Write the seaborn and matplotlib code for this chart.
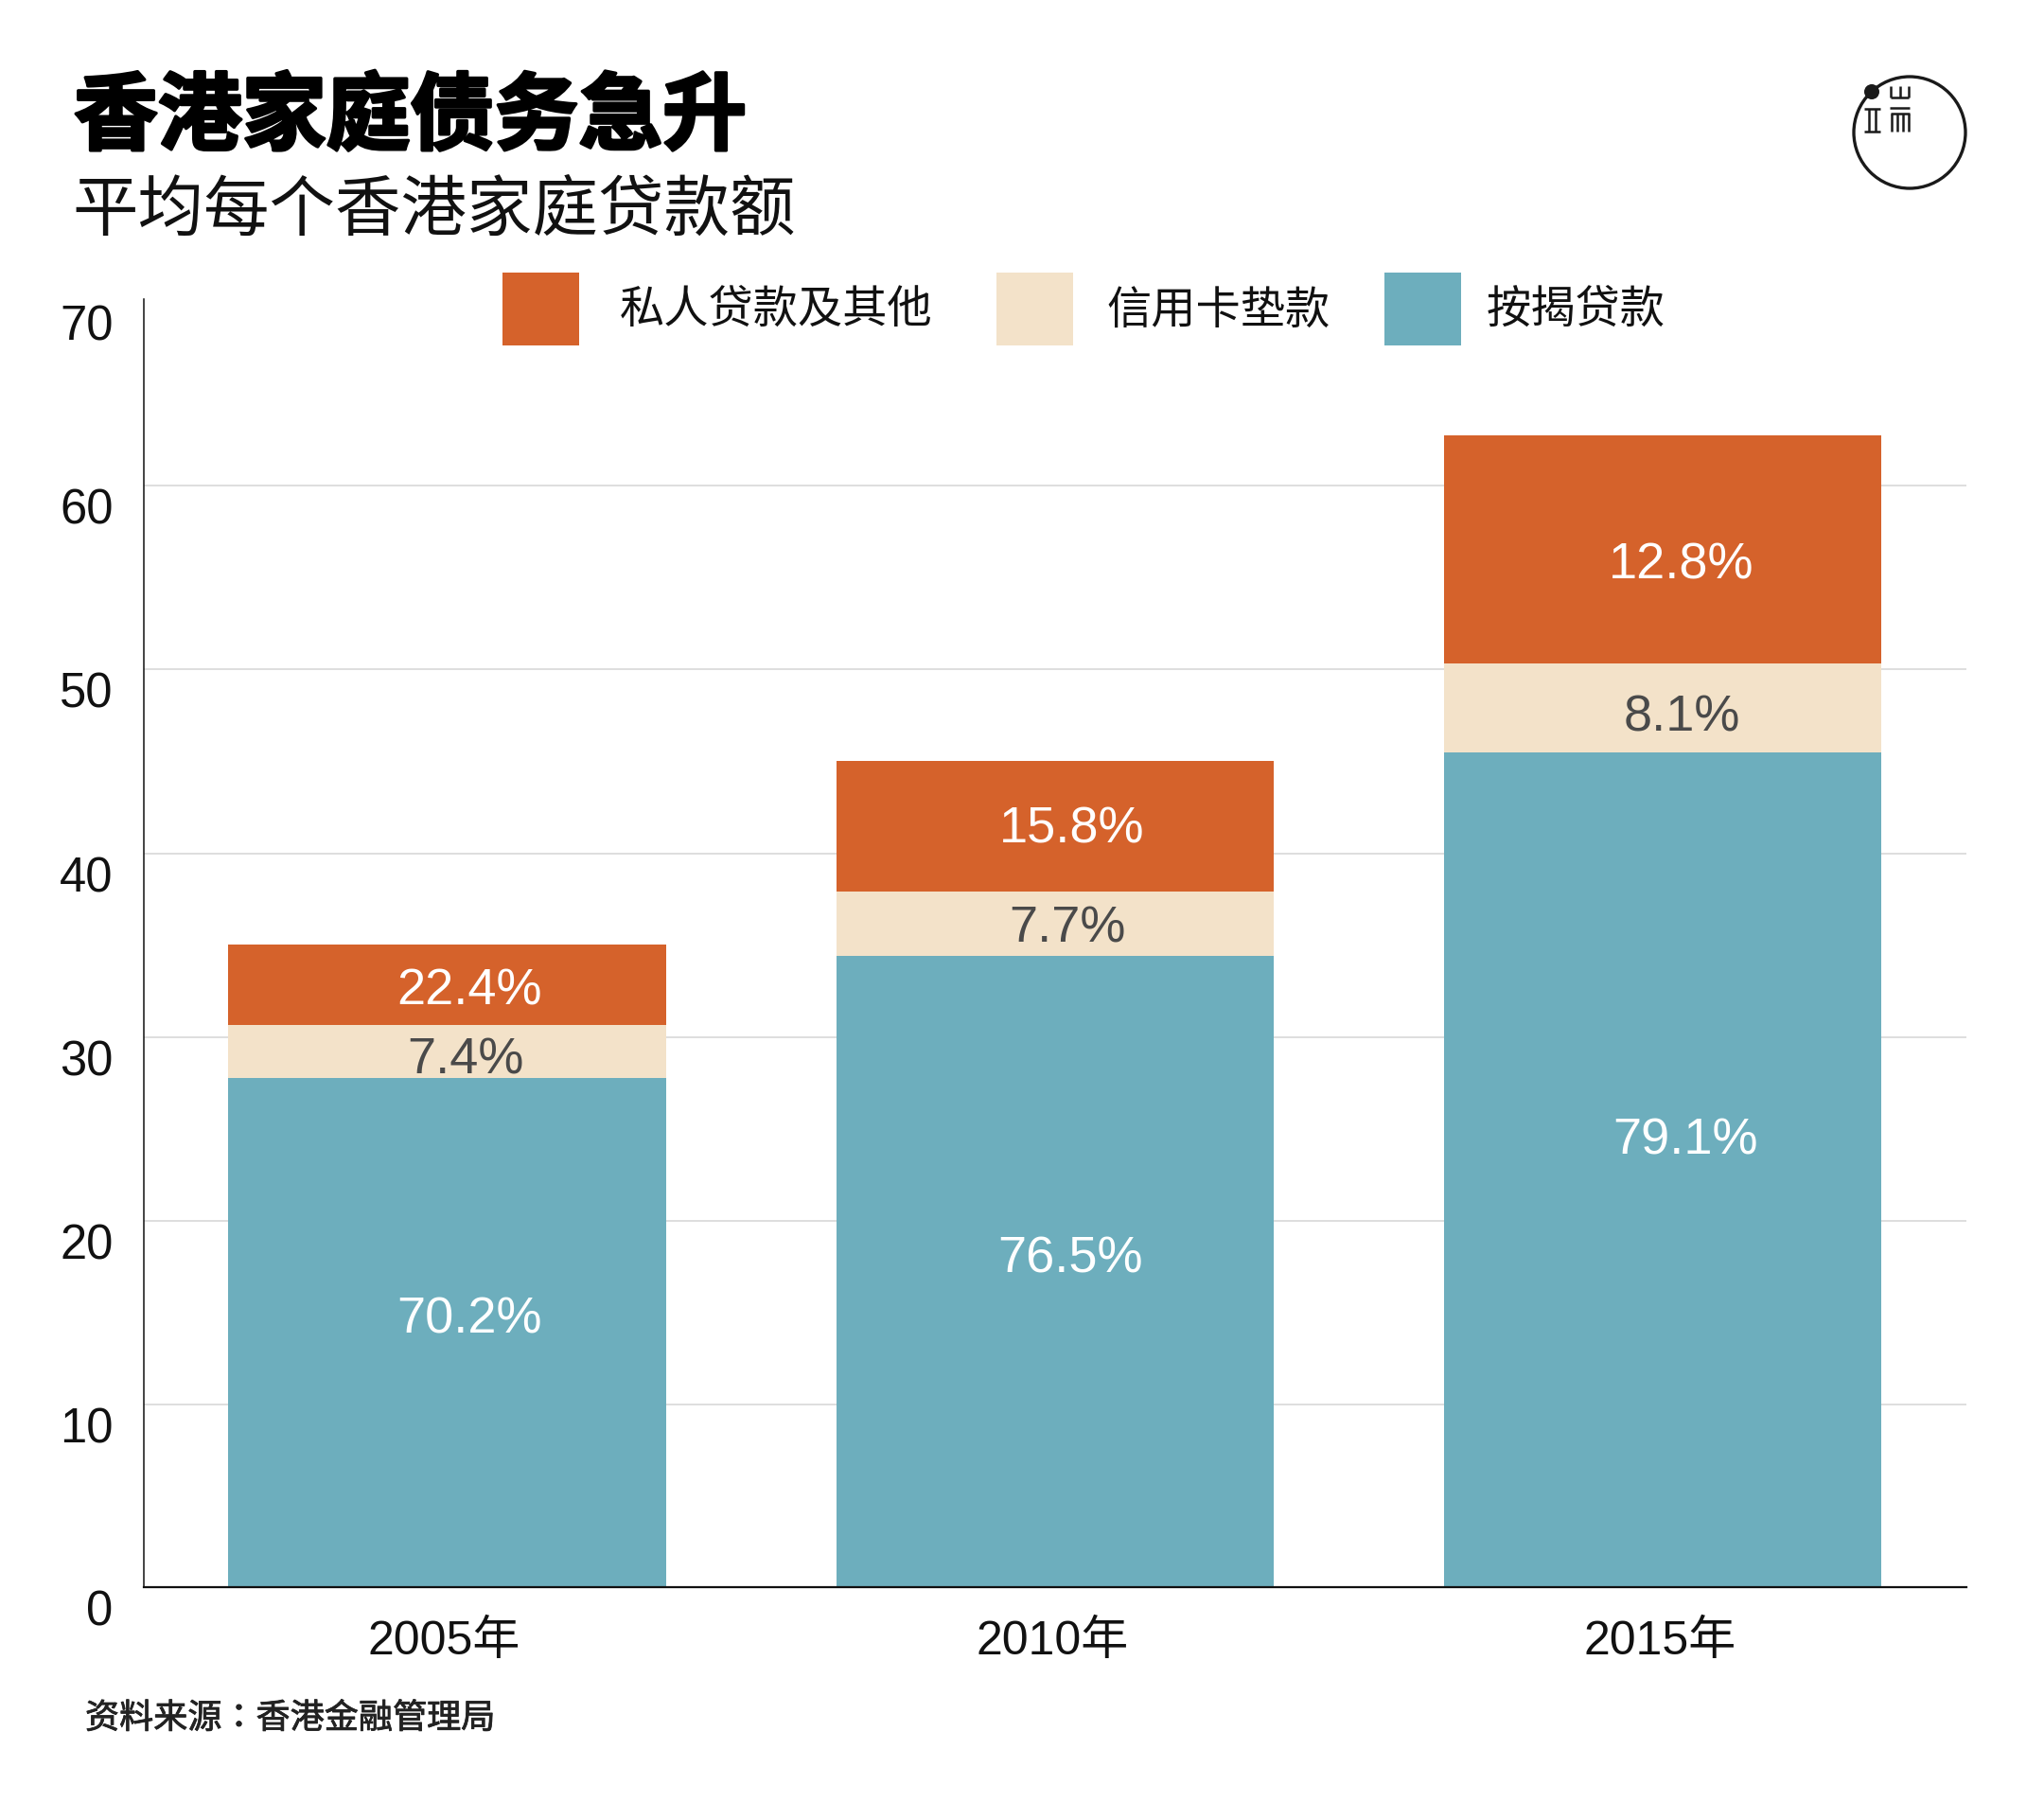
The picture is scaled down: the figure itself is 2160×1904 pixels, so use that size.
import matplotlib
matplotlib.use("Agg")
import matplotlib.pyplot as plt
import matplotlib.patheffects as pe
from matplotlib.patches import Circle
from matplotlib.lines import Line2D
from matplotlib.transforms import ScaledTranslation
import numpy as np
import pandas as pd
import seaborn as sns

# ---- data ----
years = ["2005年", "2010年", "2015年"]
mortgage = [27.8, 34.4, 45.5]
credit_card = [2.85, 3.5, 4.8]
personal = [4.4, 7.1, 12.45]
mortgage_pct = ["70.2%", "76.5%", "79.1%"]
credit_pct = ["7.4%", "7.7%", "8.1%"]
personal_pct = ["22.4%", "15.8%", "12.8%"]
series_names = ["私人贷款及其他", "信用卡垫款", "按揭贷款"]
yticks = [0, 10, 20, 30, 40, 50, 60, 70]

# label heights on the value axis as they stand in the picture
mortgage_label_y = [14.6, 17.9, 24.35]
credit_label_y = [28.75, 35.9, 47.35]
personal_label_y = [32.5, 41.3, 55.65]
# label shift from the bar centre, in category units
mortgage_label_dx = [0.036, 0.026, 0.038]
credit_label_dx = [0.030, 0.020, 0.031]
personal_label_dx = [0.036, 0.028, 0.030]

ORANGE, BEIGE, TEAL = "#D5622B", "#F3E2C9", "#6DAEBD"
W, H = 2160, 1904
CJK = ["Noto Sans CJK SC", "DejaVu Sans"]
CJK_TC = ["Noto Sans CJK TC", "DejaVu Sans"]
LATIN = ["Liberation Sans", "Noto Sans CJK SC", "DejaVu Sans"]

sns.set_theme(style="white")
plt.rcParams["font.family"] = LATIN
plt.rcParams["axes.unicode_minus"] = False

fig = plt.figure(figsize=(W / 100, H / 100), dpi=100, facecolor="white")
AX_L, AX_R, AX_T, AX_B = 151.5, 2078, 316, 1677
ax = fig.add_axes([AX_L / W, 1 - AX_B / H, (AX_R - AX_L) / W, (AX_B - AX_T) / H])

df = pd.DataFrame({"year": years, "m": mortgage, "c": credit_card, "p": personal})
df["m_top"] = df["m"]
df["c_top"] = df["m"] + df["c"]
df["p_top"] = df["c_top"] + df["p"]

for col, colr, name in [("p_top", ORANGE, series_names[0]),
                        ("c_top", BEIGE, series_names[1]),
                        ("m_top", TEAL, series_names[2])]:
    sns.barplot(data=df, x="year", y=col, color=colr, saturation=1, width=0.72,
                label=name, ax=ax, zorder=3, linewidth=0, legend=False)

# the picture's baseline sits a hair above its zero gridline position
YMIN, YMAX = 0.08, 70.14
ax.set_xlim(-0.5, 2.5)
ax.set_ylim(YMIN, YMAX)
ax.set_xlabel("")
ax.set_ylabel("")
ax.set_yticks([max(v, YMIN) for v in yticks])
ax.set_yticklabels([str(v) for v in yticks])
ax.set_axisbelow(True)
ax.grid(axis="y", color="#d4d4d4", linewidth=1.1)
ax.grid(axis="x", visible=False)
ax.yaxis.get_major_ticks()[-1].gridline.set_visible(False)
for s in ("top", "right"):
    ax.spines[s].set_visible(False)
ax.spines["left"].set_color("#111111")
ax.spines["left"].set_linewidth(1.1)
ax.spines["bottom"].set_color("#111111")
ax.spines["bottom"].set_linewidth(1.6)
ax.spines["bottom"].set_zorder(5)
ax.tick_params(axis="y", length=0, pad=23, labelsize=36.5, labelcolor="#111111")
ax.tick_params(axis="x", length=0, pad=25, labelsize=36, labelcolor="#111111")
for i, lab in enumerate(ax.get_yticklabels()):
    off = 21.6 if i == 0 else 21.6
    lab.set_transform(lab.get_transform() + ScaledTranslation(0, -off / 100, fig.dpi_scale_trans))
left = ScaledTranslation(-3 / 100, 0, fig.dpi_scale_trans)
for lab in ax.get_xticklabels():
    lab.set_transform(lab.get_transform() + left)

# ---- value labels ----
for i in range(3):
    ax.text(i + mortgage_label_dx[i], mortgage_label_y[i], mortgage_pct[i], color="white",
            ha="center", va="center", fontsize=39, zorder=6, family=LATIN)
    ax.text(i + credit_label_dx[i], credit_label_y[i], credit_pct[i], color="#4a4a4a",
            ha="center", va="center", fontsize=39, zorder=6, family=LATIN)
    ax.text(i + personal_label_dx[i], personal_label_y[i], personal_pct[i], color="white",
            ha="center", va="center", fontsize=39, zorder=6, family=LATIN)

# ---- legend: three separate entries, each with its own spacing ----
handles, labels = ax.get_legend_handles_labels()
for h, l, px, pad in zip(handles[:3], labels[:3], (530.5, 1053, 1463), (0.92, 0.75, 0.55)):
    fig.legend([h], [l], frameon=False, loc="center left",
               bbox_to_anchor=(px / W, 1 - 326.5 / H),
               prop={"family": CJK, "size": 34}, handlelength=1.72, handleheight=2.1,
               handletextpad=pad, borderpad=0, borderaxespad=0, labelcolor="#111111")

# ---- titles and source ----
t = fig.text(78 / W, 1 - 125 / H, "香港家庭债务急升", fontsize=64, fontweight="black",
             family=CJK, color="black", va="center", ha="left")
t.set_path_effects([pe.withStroke(linewidth=2.4, foreground="black")])
fig.text(76 / W, 1 - 223 / H, "平均每个香港家庭贷款额", fontsize=50, family=CJK,
         color="#111111", va="center", ha="left")
s = fig.text(90 / W, 1 - 1816 / H, "资料来源：香港金融管理局", fontsize=26, family=CJK_TC,
             color="#222222", va="center", ha="left")
s.set_path_effects([pe.withStroke(linewidth=0.6, foreground="#222222")])

# ---- logo, drawn in a full-figure pixel overlay ----
ov = fig.add_axes([0, 0, 1, 1], facecolor="none")
ov.set_xlim(0, W)
ov.set_ylim(H, 0)
ov.axis("off")
ov.add_patch(Circle((2018, 140), 59, fill=False, ec="#1a1a1a", lw=2.4))
ov.add_patch(Circle((1978, 97), 8, fc="#1a1a1a", ec="none"))
strokes = [
    ((1998, 1998), (91, 103)), ((2008, 2008), (91, 103)), ((2017, 2017), (91, 103)),
    ((1998, 2017), (103, 103)),
    ((1997, 2018), (114, 114)), ((1998, 2018), (120, 120)),
    ((1999, 1999), (120, 139)), ((2005, 2005), (120, 139)),
    ((2011, 2011), (120, 139)), ((2017, 2017), (120, 139)),
    ((1970, 1987), (115, 115)), ((1970, 1987), (139, 139)),
    ((1975, 1975), (115, 139)), ((1982, 1982), (115, 139)),
]
for xs, ys in strokes:
    ov.add_line(Line2D(xs, ys, color="#1a1a1a", lw=1.8, solid_capstyle="butt"))

fig.savefig("out.png", dpi=100, facecolor="white")
